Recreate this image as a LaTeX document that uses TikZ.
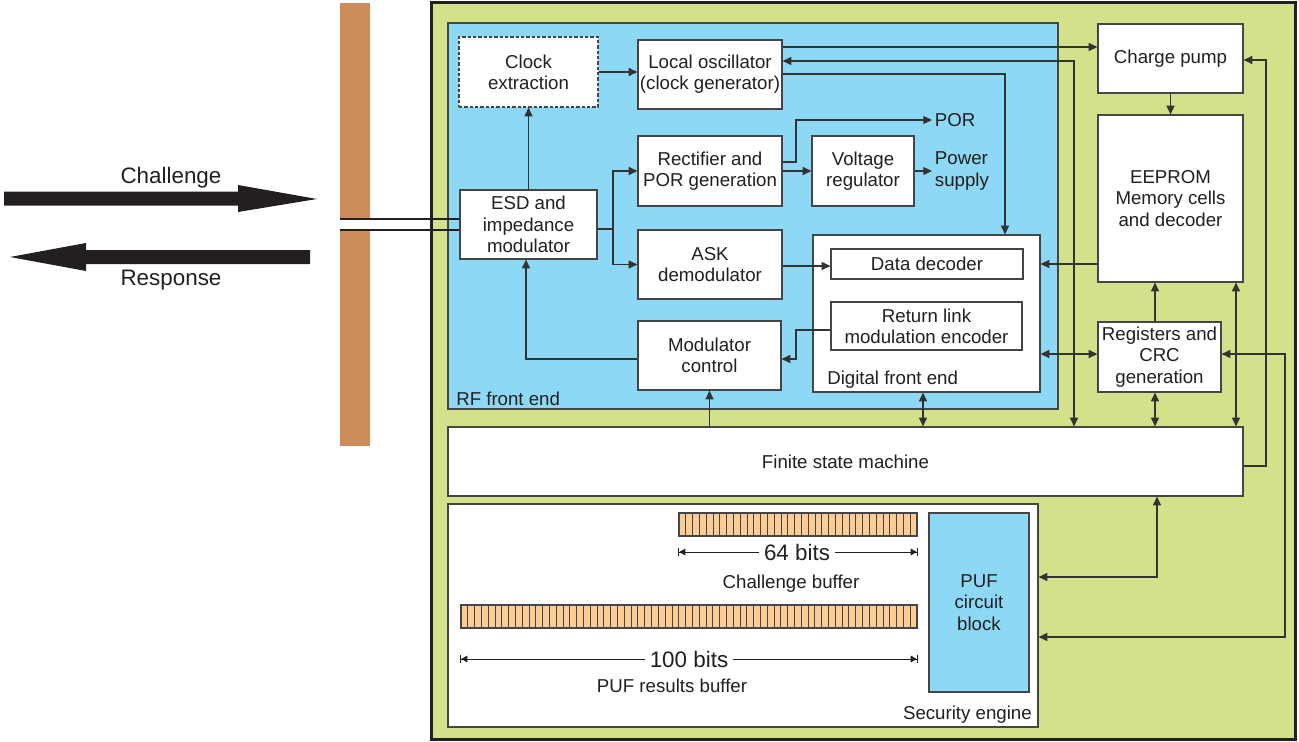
\documentclass[tikz,border=0pt]{standalone}
\usepackage{fontspec}
\setmainfont{Liberation Sans}
\usetikzlibrary{arrows.meta,calc}
\definecolor{chipgreen}{HTML}{D3E28A}
\definecolor{rfblue}{HTML}{8CD8F5}
\definecolor{antorange}{HTML}{CD8B5C}
\definecolor{bitorange}{HTML}{FACC96}
\definecolor{ink}{HTML}{231F20}
\definecolor{wire}{HTML}{333333}
\definecolor{frame}{HTML}{454545}
\begin{document}
\begin{tikzpicture}[x=0.75pt,y=-0.75pt,
  font=\fontsize{14}{16}\selectfont, text=ink,
  >={Triangle[length=6.5pt,width=6pt]},
  sz/.style 2 args={minimum width={#1*0.75pt}, minimum height={#2*0.75pt}, anchor=center},
  box/.style={draw=frame, line width=0.9pt, fill=white, inner sep=0pt, align=center},
  region/.style={draw=frame, line width=0.9pt, inner sep=0pt},
  bufbar/.style={draw=frame, line width=0.9pt, fill=bitorange, inner sep=0pt},
  cellline/.style={draw=frame, line width=0.7pt},
  wireline/.style={draw=wire, line width=0.8pt},
  antline/.style={draw=ink, line width=1.1pt},
  dimline/.style={draw=ink, line width=0.7pt},
  dimtip/.style={-{Triangle[length=4.5pt,width=5pt]Bar[width=6.5pt]}},
  tag/.style={inner sep=0pt},
  bigtext/.style={font=\fontsize{16.8}{19}\selectfont},
  bigarrow/.style={fill=ink, draw=none},
]
\useasboundingbox (0,0) rectangle (1299,742);

% ---------- chip, antenna, regions ----------
\node[fill=chipgreen, draw=ink, line width=2.4pt, inner sep=0pt, sz={864}{737}] (chip) at (863.5,371) {};
\node[fill=antorange, inner sep=0pt, sz={30}{443}] (ant) at (355,224.5) {};
\node[region, fill=rfblue, sz={610}{386}] (rf) at (753,216) {};
\node[tag, anchor=base west] (rflabel) at (456,405) {RF front end};

% ---------- RF front end blocks ----------
\node[box, dashed, dash pattern=on 2.5pt off 1.5pt, sz={139}{70}] (clk) at (528.5,72) {Clock\\extraction};
\node[box, sz={144}{69}] (lo) at (710,74.5) {Local oscillator\\(clock generator)};
\node[box, sz={144}{70}] (rect) at (710,171) {Rectifier and\\POR generation};
\node[box, sz={102}{70}] (vr) at (863,171) {Voltage\\regulator};
\node[box, sz={137}{69}] (esd) at (528.5,224.5) {ESD and\\impedance\\modulator};
\node[box, sz={144}{69}] (ask) at (710,264.5) {ASK\\demodulator};
\node[box, sz={143}{69}] (mc) at (709.5,355.5) {Modulator\\control};
\node[box, sz={227}{157}] (dfe) at (926.5,313.5) {};
\node[tag, anchor=base west] (dfelabel) at (827,384) {Digital front end};
\node[box, sz={192}{30}] (dd) at (927,264) {Data decoder};
\node[box, sz={191}{48}] (rl) at (926.5,326) {Return link\\modulation encoder};
\node[anchor=west, inner sep=2pt] (por) at (932,120) {POR};
\node[anchor=west, inner sep=2pt, align=left] (ps) at (932,171) {Power\\supply};

% ---------- right column ----------
\node[box, sz={145}{69}] (cp) at (1170.5,58.5) {Charge pump};
\node[box, sz={145}{167}] (ee) at (1170.5,198.5) {EEPROM\\Memory cells\\and decoder};
\node[box, sz={123}{70}] (reg) at (1159.5,357) {Registers and\\CRC\\generation};
\node[box, sz={795}{69}] (fsm) at (845.5,461.5) {Finite state machine};

% ---------- security engine ----------
\node[box, sz={590}{223}] (se) at (743,615.5) {};
\node[tag, anchor=base east] (selabel) at (1032,719) {Security engine};
\node[box, fill=rfblue, sz={100}{179}] (puf) at (979,602.5) {PUF\\circuit\\block};
\node[bufbar, sz={238}{23}] (cbuf) at (798,524.5) {};
\foreach \i in {1,...,34} {
  \pgfmathsetmacro\xx{679+\i*6.8}
  \draw[cellline] (\xx,513) -- (\xx,536);
}
\node[bufbar, sz={456}{23}] (rbuf) at (689,616.5) {};
\foreach \i in {1,...,66} {
  \pgfmathsetmacro\xx{461+\i*6.806}
  \draw[cellline] (\xx,605) -- (\xx,628);
}
\node[bigtext] (d64) at (797,552) {64 bits};
\draw[dimline, dimtip] (d64.west) -- (cbuf.west |- d64);
\draw[dimline, dimtip] (d64.east) -- (cbuf.east |- d64);
\node[anchor=base] (cbt) at (791,588) {Challenge buffer};
\node[bigtext] (d100) at (689,659) {100 bits};
\draw[dimline, dimtip] (d100.west) -- (rbuf.west |- d100);
\draw[dimline, dimtip] (d100.east) -- (rbuf.east |- d100);
\node[anchor=base] (rbt) at (672,692) {PUF results buffer};

% ---------- challenge / response ----------
\fill[bigarrow] (4,191.5) -- (238,191.5) -- (238,185) -- (317,199) -- (238,212) -- (238,205.5) -- (4,205.5) -- cycle;
\fill[bigarrow] (10,257) -- (86,243) -- (86,250) -- (310,250) -- (310,264) -- (86,264) -- (86,271) -- cycle;
\node[bigtext, anchor=base] (chal) at (171,183) {Challenge};
\node[bigtext, anchor=base] (resp) at (171,285) {Response};

% ---------- helper levels ----------
\path (0,47) coordinate (hA) (0,61) coordinate (hB) (0,74) coordinate (hC)
      (0,60) coordinate (hD) (0,466) coordinate (hE) (0,264) coordinate (hF)
      (0,354) coordinate (hG) (0,637) coordinate (hH) (0,577) coordinate (hI)
      (0,359) coordinate (hJ) (0,330) coordinate (hK) (0,162) coordinate (hL)
      (0,229) coordinate (hM) (0,266) coordinate (hN);
\path (1074,0) coordinate (vA) (1005,0) coordinate (vB) (1266,0) coordinate (vC)
      (1285,0) coordinate (vD) (1157,0) coordinate (vE) (1236,0) coordinate (vF)
      (923,0) coordinate (vG) (526,0) coordinate (vH) (796,0) coordinate (vI)
      (613,0) coordinate (vJ) (1155,0) coordinate (vK);

% ---------- antenna connection ----------
\coordinate (ea) at ($(esd.west)+(0,-5.5)$);
\coordinate (eb) at ($(esd.west)+(0,5.5)$);
\fill[white] (ant.west |- ea) rectangle (ant.east |- eb);
\draw[antline] (ant.west |- ea) -- (ea);
\draw[antline] (ant.west |- eb) -- (eb);

% ---------- connectors ----------
\draw[wireline, ->] (esd.north) -- (clk.south);
\draw[wireline, ->] (clk.east) -- (lo.west |- clk.east);
\draw[wireline] (esd.east |- hM) -- (vJ |- hM);
\draw[wireline, ->] (vJ |- hM) |- (rect.west);
\draw[wireline, ->] (vJ |- hM) |- (ask.west);
\draw[wireline, ->] (rect.east |- hL) -| (vI |- por.west) -- (por.west);
\draw[wireline, ->] (rect.east) -- (vr.west);
\draw[wireline, ->] (vr.east) -- (ps.west);
\draw[wireline, ->] (ask.east |- hN) -- (dd.west |- hN);
\draw[wireline, ->] (rl.west |- hK) -| (vI |- hJ) -- (mc.east |- hJ);
\draw[wireline, ->] (mc.west |- hJ) -| (vH |- esd.south);
\draw[wireline, ->] (fsm.north -| mc.south) -- (mc.south);
\draw[wireline, <->] (dfe.south -| vG) -- (fsm.north -| vG);
\draw[wireline, ->] (lo.east |- hA) -- (cp.west |- hA);
\draw[wireline, <->] (lo.east |- hB) -| (vA |- fsm.north);
\draw[wireline, ->] (lo.east |- hC) -| (vB |- dfe.north);
\draw[wireline, ->] (cp.south) -- (ee.north);
\draw[wireline, ->] (fsm.east |- hE) -| (vC |- hD) -- (cp.east |- hD);
\draw[wireline, ->] (ee.west |- hF) -- (dfe.east |- hF);
\draw[wireline, <->] (dfe.east |- hG) -- (reg.west |- hG);
\draw[wireline, ->] (reg.north -| vK) -- (ee.south -| vK);
\draw[wireline, <->] (ee.south -| vF) -- (fsm.north -| vF);
\draw[wireline, <->] (reg.south -| vK) -- (fsm.north -| vK);
\draw[wireline, <->] (reg.east |- hG) -| (vD |- hH) -- (se.east |- hH);
\draw[wireline, <->] (fsm.south -| vE) |- (se.east |- hI);
\end{tikzpicture}
\end{document}
